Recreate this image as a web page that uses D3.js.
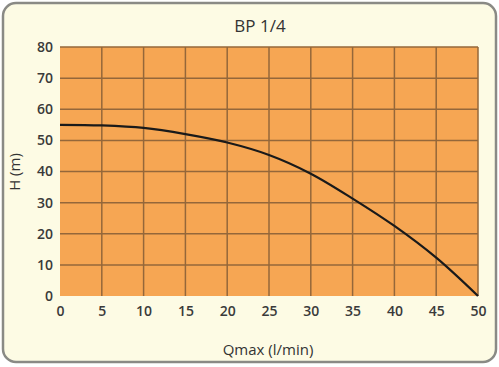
<!DOCTYPE html>
<html>
<head>
<meta charset="utf-8">
<script src="https://cdn.jsdelivr.net/npm/d3@7"></script>
<style>
  body { margin: 0; background: #fff; }
  svg { display: block; font-family: "Open Sans", sans-serif; }
</style>
</head>
<body>
<svg id="chart" width="499" height="367"></svg>
<script>
// pump curve BP 1/4
const flow = [0, 5, 10, 15, 20, 25, 30, 35, 40, 45, 50];
const head = [55, 54.8, 54, 52, 49.3, 45.3, 39.3, 31.3, 22.5, 12.3, 0];
const xTicks = [0, 5, 10, 15, 20, 25, 30, 35, 40, 45, 50];
const yTicks = [0, 10, 20, 30, 40, 50, 60, 70, 80];

const svg = d3.select("#chart");
const margin = {left: 60, top: 47, right: 21, bottom: 71};
const width = 499 - margin.left - margin.right;
const height = 367 - margin.top - margin.bottom;

// card background
svg.append("rect")
    .attr("x", 3).attr("y", 3)
    .attr("width", 493).attr("height", 359)
    .attr("rx", 13)
    .attr("fill", "#fdfbe4")
    .attr("stroke", "#8a8a85")
    .attr("stroke-width", 2.5);

const x = d3.scaleLinear().domain([0, 50]).range([0, width]);
const y = d3.scaleLinear().domain([0, 80]).range([height, 0]);

const g = svg.append("g")
    .attr("transform", "translate(" + margin.left + "," + margin.top + ")");

g.append("rect")
    .attr("width", width).attr("height", height)
    .attr("fill", "#f6a653");

// grid
g.append("g")
    .selectAll("line")
    .data(xTicks.slice(1))
    .join("line")
    .attr("x1", d => x(d)).attr("x2", d => x(d))
    .attr("y1", 0).attr("y2", height)
    .attr("stroke", "#94673a").attr("stroke-width", 1.5);

g.append("g")
    .selectAll("line")
    .data(yTicks.slice(1))
    .join("line")
    .attr("x1", 0).attr("x2", width)
    .attr("y1", d => y(d)).attr("y2", d => y(d))
    .attr("stroke", "#94673a").attr("stroke-width", 1.5);

// tick labels
const xAxis = g.append("g")
    .attr("transform", "translate(0," + height + ")")
    .call(d3.axisBottom(x).tickValues(xTicks).tickSize(0).tickPadding(10));
const yAxis = g.append("g")
    .call(d3.axisLeft(y).tickValues(yTicks).tickSize(0).tickPadding(7));

[xAxis, yAxis].forEach(a => {
    a.select(".domain").remove();
    a.selectAll("text")
        .attr("fill", "#3a3a3a")
        .style("font-size", "14px")
        .style("font-weight", "600")
        .style("font-family", "Open Sans, sans-serif");
});

// curve
const line = d3.line()
    .x((d, i) => x(flow[i]))
    .y(d => y(d))
    .curve(d3.curveCatmullRom.alpha(0.5));

g.append("path")
    .attr("d", line(head))
    .attr("fill", "none")
    .attr("stroke", "#1a1a1a")
    .attr("stroke-width", 2.2);

// titles
svg.append("text")
    .attr("x", 260).attr("y", 32)
    .attr("text-anchor", "middle")
    .attr("fill", "#333")
    .style("font-size", "17px")
    .text("BP 1/4");

svg.append("text")
    .attr("x", 268).attr("y", 355)
    .attr("text-anchor", "middle")
    .attr("fill", "#333")
    .style("font-size", "15px")
    .text("Qmax (l/min)");

svg.append("text")
    .attr("transform", "translate(20,172) rotate(-90)")
    .attr("text-anchor", "middle")
    .attr("fill", "#333")
    .style("font-size", "15px")
    .text("H (m)");
</script>
</body>
</html>
